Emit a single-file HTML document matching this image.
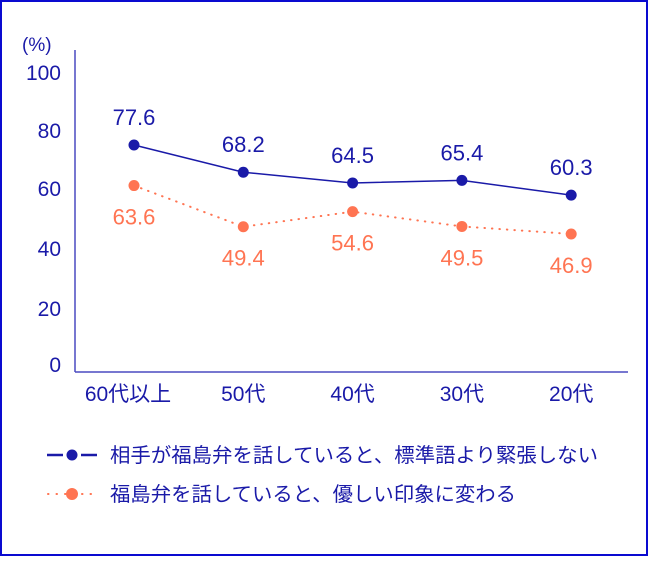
<!DOCTYPE html>
<html><head><meta charset="utf-8"><style>
body{margin:0;background:#fff}
svg text{font-family:"Liberation Sans","Noto Sans CJK JP",sans-serif}
</style></head><body>
<svg width="648" height="556" id="c">
<rect x="1" y="1" width="646" height="554" fill="#fff" stroke="#0a0ad0" stroke-width="2"/>
</svg>
<script>
const categories=["60代以上","50代","40代","30代","20代"];
const seriesA=[77.6,68.2,64.5,65.4,60.3];
const seriesB=[63.6,49.4,54.6,49.5,46.9];
const yTicks=[0,20,40,60,80,100];
const legendA="相手が福島弁を話していると、標準語より緊張しない";
const legendB="福島弁を話していると、優しい印象に変わる";
const svg=document.getElementById('c');const NS="http://www.w3.org/2000/svg";
const blue="#1a1aa8",orange="#ff7452";
function y(v){return 370-v*2.9;}
function x(i){return 134+i*109.3;}
function mk(t,a,txt){const e=document.createElementNS(NS,t);for(const k in a)e.setAttribute(k,a[k]);if(txt!==undefined)e.textContent=txt;svg.appendChild(e);return e;}
let e=mk('text',{x:22,y:51,'font-size':19,fill:blue},'(%)');

e=mk('line',{x1:75,y1:50,x2:75,y2:372,stroke:'#4a4ac0','stroke-width':1.5});

e=mk('line',{x1:75,y1:372,x2:628,y2:372,stroke:'#4a4ac0','stroke-width':1.5});

yTicks.forEach((t,i)=>{const el=mk('text',{x:61,y:y(t)+4+(t===0?-2:0)+(t===60?-4:0)+(t===80?-4:0)+(t===100?-4:0)+(t===40?-2:0),'font-size':21,fill:blue,'text-anchor':'end'},t);
});
categories.forEach((c,i)=>{const el=mk('text',{x:x(i)-(i===0?6:0),y:401,'font-size':21,fill:blue,'text-anchor':'middle'},c);
});
function series(vals,col,dash,name,dy){
 const l=mk('polyline',{points:vals.map((v,i)=>x(i)+','+y(v)).join(' '),fill:'none',stroke:col,'stroke-width':dash?2:1.5,'stroke-dasharray':dash?'0.5 7':'none','stroke-linecap':'round'});
 
 vals.forEach((v,i)=>{const p=mk('circle',{cx:x(i),cy:y(v),r:5.5,fill:col});
 
 const t=mk('text',{x:x(i),y:y(v)+dy,'font-size':22,fill:col,'text-anchor':'middle'},v.toFixed(1));
 });
}
series(seriesA,blue,false,'series-a',-20);
series(seriesB,orange,true,'series-b',39);
e=mk('line',{x1:47,y1:455,x2:63,y2:455,stroke:blue,'stroke-width':2.5});

e=mk('line',{x1:81,y1:455,x2:97,y2:455,stroke:blue,'stroke-width':2.5});

e=mk('circle',{cx:72,cy:455,r:5.5,fill:blue});

e=mk('text',{x:110,y:462,'font-size':20,fill:blue,textLength:488,lengthAdjust:'spacingAndGlyphs'},legendA);

e=mk('line',{x1:48,y1:494,x2:98,y2:494,stroke:orange,'stroke-width':2,'stroke-dasharray':'0.5 8','stroke-linecap':'round'});

e=mk('circle',{cx:72,cy:494,r:6,fill:orange});

e=mk('text',{x:110,y:501,'font-size':20,fill:blue,textLength:406,lengthAdjust:'spacingAndGlyphs'},legendB);

</script>
</body></html>
